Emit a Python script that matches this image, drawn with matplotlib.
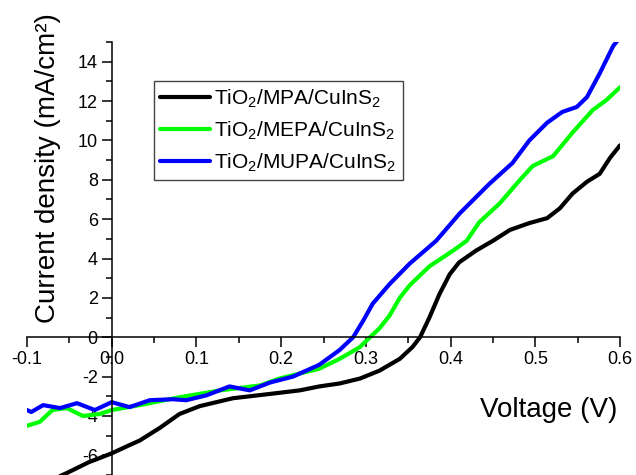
import numpy as np
import matplotlib
matplotlib.use("Agg")
import matplotlib.pyplot as plt
from matplotlib.ticker import MultipleLocator, FormatStrFormatter

plt.rcParams['font.family'] = ['Liberation Sans', 'DejaVu Sans']
plt.rcParams['mathtext.fontset'] = 'custom'
plt.rcParams['mathtext.rm'] = 'Liberation Sans'
plt.rcParams['axes.unicode_minus'] = False

# J-V curves
v_mpa = [-0.1, -0.053, -0.027, 0.0, 0.02, 0.033, 0.057, 0.08, 0.104, 0.143, 0.183,
         0.222, 0.245, 0.269, 0.293, 0.316, 0.34, 0.355, 0.364, 0.375, 0.387, 0.399,
         0.41, 0.43, 0.45, 0.47, 0.493, 0.514, 0.529, 0.544, 0.561, 0.576, 0.588, 0.6]
j_mpa = [-7.8, -6.9, -6.35, -5.9, -5.5, -5.25, -4.6, -3.9, -3.5, -3.1, -2.9,
         -2.7, -2.5, -2.35, -2.1, -1.7, -1.1, -0.5, 0.0, 1.0, 2.2, 3.2,
         3.8, 4.4, 4.9, 5.45, 5.8, 6.05, 6.55, 7.3, 7.9, 8.3, 9.1, 9.75]

v_mepa = [-0.1, -0.085, -0.07, -0.053, -0.034, -0.014, 0.0, 0.033, 0.08, 0.128, 0.175,
          0.198, 0.245, 0.269, 0.293, 0.305, 0.316, 0.328, 0.34, 0.352, 0.375, 0.403,
          0.419, 0.434, 0.458, 0.482, 0.497, 0.521, 0.544, 0.568, 0.584, 0.6]
j_mepa = [-4.5, -4.3, -3.7, -3.6, -4.0, -3.9, -3.7, -3.45, -3.05, -2.7, -2.45,
          -2.1, -1.6, -1.1, -0.5, 0.0, 0.45, 1.1, 2.0, 2.65, 3.6, 4.4,
          4.9, 5.85, 6.8, 8.0, 8.7, 9.2, 10.4, 11.55, 12.05, 12.7]

v_mupa = [-0.1, -0.095, -0.081, -0.061, -0.041, -0.02, 0.0, 0.021, 0.045, 0.072, 0.088,
          0.112, 0.139, 0.163, 0.187, 0.214, 0.245, 0.269, 0.285, 0.297, 0.308, 0.328,
          0.352, 0.383, 0.411, 0.446, 0.473, 0.493, 0.514, 0.532, 0.549, 0.561, 0.576,
          0.592, 0.605]
j_mupa = [-3.7, -3.8, -3.45, -3.6, -3.35, -3.7, -3.3, -3.55, -3.2, -3.15, -3.2,
          -2.95, -2.5, -2.7, -2.3, -2.0, -1.4, -0.65, 0.0, 0.85, 1.7, 2.7,
          3.75, 4.9, 6.3, 7.8, 8.85, 10.0, 10.9, 11.45, 11.7, 12.2, 13.4,
          14.8, 15.5]

labels = [r'TiO$_2$/MPA/CuInS$_2$', r'TiO$_2$/MEPA/CuInS$_2$', r'TiO$_2$/MUPA/CuInS$_2$']
colors = ['black', '#00ff00', '#0000ff']

fig = plt.figure(figsize=(6.36, 4.75), dpi=100)
ax = fig.add_axes([27 / 636, 0.0, 593 / 636, 433 / 475])

for v, j, lab, c in zip([v_mpa, v_mepa, v_mupa], [j_mpa, j_mepa, j_mupa], labels, colors):
    ax.plot(v, j, color=c, lw=3, label=lab, solid_capstyle='round')

ax.set_xlim(-0.1, 0.6)
ax.set_ylim(-7, 15)

# axes crossing at the origin
ax.spines['left'].set_position(('data', 0))
ax.spines['bottom'].set_position(('data', 0))
ax.spines['top'].set_visible(False)
ax.spines['right'].set_visible(False)
for s in ['left', 'bottom']:
    ax.spines[s].set_linewidth(1.1)

ax.xaxis.set_major_locator(MultipleLocator(0.1))
ax.xaxis.set_minor_locator(MultipleLocator(0.05))
ax.xaxis.set_major_formatter(FormatStrFormatter('%.1f'))
ax.yaxis.set_major_locator(MultipleLocator(2))
ax.yaxis.set_minor_locator(MultipleLocator(1))
ax.yaxis.set_major_formatter(FormatStrFormatter('%d'))
ax.tick_params(which='major', direction='out', length=7, width=1.1, labelsize=13, pad=3)
ax.tick_params(which='minor', direction='out', length=4, width=1.1)

fig.text(48 / 636, 1 - 168 / 475, 'Current density (mA/cm²)', rotation=90,
         ha='center', va='center', fontsize=20)
fig.text(617 / 636, 1 - 417 / 475, 'Voltage (V)', ha='right', va='baseline', fontsize=20)

leg = ax.legend(loc='upper left', bbox_to_anchor=(154 / 636, 1 - 81 / 475),
                bbox_transform=fig.transFigure, fontsize=15, fancybox=False,
                edgecolor='#444444', framealpha=1, handlelength=2.4,
                handletextpad=0.2, borderpad=0.3, labelspacing=0.45, borderaxespad=0)
leg.get_frame().set_linewidth(1.0)

fig.savefig('out.png', dpi=100)
plt.close(fig)
